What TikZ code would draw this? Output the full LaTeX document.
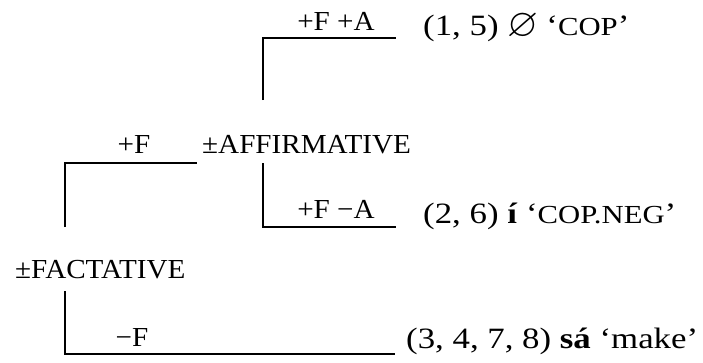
\documentclass[tikz,border=0pt]{standalone}
\usepackage{fontspec}
\setmainfont{Liberation Serif}
\newfontfamily\featfont[FakeStretch=1.06]{Liberation Serif}
\newfontfamily\resfont[FakeStretch=1.18]{Liberation Serif}
\usepackage{amssymb}
\usetikzlibrary{positioning}

\newcommand{\smcap}[1]{{\fontsize{26}{27}\selectfont #1}}

\begin{document}
\begin{tikzpicture}[
    x=1pt, y=-1pt,
    feat/.style={inner sep=0pt, anchor=base west, font=\featfont\fontsize{27.5}{30}\selectfont},
    res/.style={inner sep=0pt, anchor=base west, font=\resfont\fontsize{29.5}{32}\selectfont},
    lbl/.style={inner sep=0pt, anchor=base, font=\featfont\fontsize{27.5}{30}\selectfont},
    branch/.style={line width=1.5pt, color=black},
]
\useasboundingbox (0,0) rectangle (703,362);

% feature nodes
\node[feat] (fact) at (15,278) {±FACTATIVE};
\node[feat] (affirm) at (202,153) {±AFFIRMATIVE};

% outcomes
\node[res] (cop) at (423,35) {(1, 5) \raisebox{-1pt}{\scalebox{1.35}{$\varnothing$}}\;‘\smcap{COP}’};
\node[res] (copneg) at (423,223) {(2, 6) \textbf{í} ‘\smcap{COP.NEG}’};
\node[res] (make) at (406,348) {(3, 4, 7, 8) \textbf{sá} ‘make’};

% bracket corners
\coordinate (affirm-up) at (263,100);
\coordinate (affirm-dn) at (263,163);
\coordinate (fact-up) at (65,227);
\coordinate (fact-dn) at (65,291);
\coordinate (cop-end) at (396,38);
\coordinate (copneg-end) at (396,227);
\coordinate (make-end) at (395,354);
\coordinate (affirm-in) at (197,163);

\draw[branch] (affirm-up) |- (cop-end);
\draw[branch] (affirm-dn) |- (copneg-end);
\draw[branch] (fact-up) |- (affirm-in);
\draw[branch] (fact-dn) |- (make-end);

% branch labels
\node[lbl] (l-fa) at (336,30) {+F +A};
\node[lbl] (l-fna) at (336,218) {+F −A};
\node[lbl] (l-f) at (134,153) {+F};
\node[lbl] (l-nf) at (132,346) {−F};
\end{tikzpicture}
\end{document}
